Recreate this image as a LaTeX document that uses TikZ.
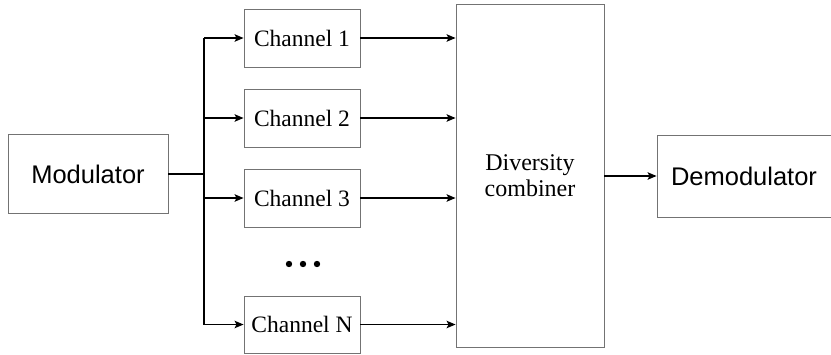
\documentclass[tikz,border=0pt]{standalone}
\usepackage{fontspec}
\setmainfont{Liberation Serif}
\newfontfamily\arialfont{Liberation Sans}
\usetikzlibrary{arrows.meta}

\tikzset{
  blockbox/.style={draw=black!55, line width=0.9pt, fill=white, inner sep=0pt, align=center},
  sansbox/.style={blockbox, font=\arialfont\fontsize{25.5}{28}\selectfont},
  serifbox/.style={blockbox, font=\fontsize{23.5}{25}\selectfont},
  wire/.style={draw=black, line width=1.3pt},
  arrowwire/.style={wire, -{Stealth[length=9pt, width=7.5pt, inset=2pt]}},
}

\begin{document}
\begin{tikzpicture}[x=1pt, y=-1pt]
  \useasboundingbox (0,0) rectangle (831,354);

  % blocks
  \node[sansbox, minimum width=160pt, minimum height=79pt] (mod) at (88,174) {Modulator};
  \node[serifbox, minimum width=116pt, minimum height=58pt] (c1) at (302,38) {Channel 1};
  \node[serifbox, minimum width=116pt, minimum height=58pt] (c2) at (302,118) {Channel 2};
  \node[serifbox, minimum width=116pt, minimum height=58pt] (c3) at (302,198) {Channel 3};
  \node[serifbox, minimum width=116pt, minimum height=57pt] (cN) at (302,324.5) {Channel N};
  \node[serifbox, font=\fontsize{24}{25.5}\selectfont, minimum width=148pt, minimum height=343pt] (div) at (530,175.5) {Diversity\\combiner};
  \node[sansbox, minimum width=178pt, minimum height=82pt] (demod) at (746,176) {Demodulator\hspace*{4pt}};

  % ellipsis between channel 3 and channel N
  \fill (289,264) circle (3.2pt);
  \fill (303,264) circle (3.2pt);
  \fill (317,264) circle (3.2pt);

  % splitting bus
  \coordinate (bus) at (204,174);
  \draw[wire] (mod.east) -- (mod.east -| bus);
  \draw[wire] (bus |- c1.west) -- (bus |- cN.west);
  \foreach \c in {c1,c2,c3,cN} {
    \draw[arrowwire] (bus |- \c.west) -- (\c.west);
    \draw[arrowwire] (\c.east) -- (\c.east -| div.west);
  }

  % combiner output
  \draw[arrowwire] (div.east |- demod.west) -- (demod.west);
\end{tikzpicture}
\end{document}
